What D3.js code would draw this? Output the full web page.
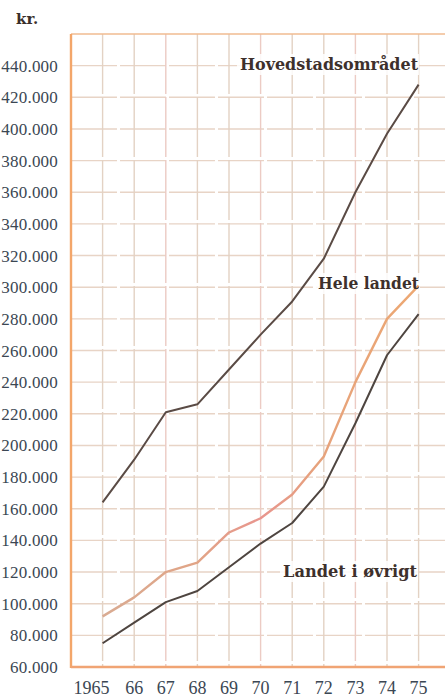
<!DOCTYPE html>
<html>
<head>
<meta charset="utf-8">
<script src="https://cdn.jsdelivr.net/npm/d3@7"></script>
<style>
  body { margin: 0; background: #fff; }
  svg { display: block; }
</style>
</head>
<body>
<div id="chart"></div>
<script>
// data (tusinde kr.)
const years = [1965, 1966, 1967, 1968, 1969, 1970, 1971, 1972, 1973, 1974, 1975];
const yearLabels = ["1965", "66", "67", "68", "69", "70", "71", "72", "73", "74", "75"];
const hovedstad = [164, 191, 221, 226, 248, 270, 291, 318, 360, 397, 428];
const heleLandet = [92, 104, 120, 126, 145, 154, 169, 193, 240, 280, 301];
const oevrigt = [75, 88, 101, 108, 123, 138, 151, 174, 214, 257, 283];
const yTicks = [60, 80, 100, 120, 140, 160, 180, 200, 220, 240, 260, 280, 300, 320, 340, 360, 380, 400, 420, 440];

const W = 445, H = 700;
const margin = { top: 34, left: 71, bottom: 33 };
const serif = "'Liberation Serif', 'Times New Roman', serif";
const boldSerif = "'DejaVu Serif', serif";

const svg = d3
  .select("#chart")
  .append("svg")
  .attr("width", W)
  .attr("height", H);

const x = d3.scaleLinear().domain([1964, 1975]).range([margin.left, 418.6]);
const y = d3.scaleLinear().domain([60, 460]).range([H - margin.bottom, margin.top]);

const fmt = (v) => d3.format(",")(v * 1000).replace(/,/g, ".");

// grid
const grid = svg.append("g");
grid
  .selectAll(".hgrid")
  .data(yTicks)
  .enter()
  .append("line")
  .attr("x1", margin.left)
  .attr("x2", W)
  .attr("y1", (d) => y(d))
  .attr("y2", (d) => y(d))
  .attr("stroke", "#e8d4c6")
  .attr("stroke-width", 1.4)
  .attr("stroke-dasharray", "46,3");

grid
  .selectAll(".vgrid")
  .data(years)
  .enter()
  .append("line")
  .attr("x1", (d) => x(d))
  .attr("x2", (d) => x(d))
  .attr("y1", margin.top)
  .attr("y2", y(60))
  .attr("stroke", (d, i) => (i % 3 === 2 ? "#eccbc4" : "#e3d2c4"))
  .attr("stroke-width", 1.4)
  .attr("stroke-dasharray", "60,3");

// frame: top, left axis, bottom axis
svg.append("line")
  .attr("x1", margin.left).attr("x2", W)
  .attr("y1", margin.top).attr("y2", margin.top)
  .attr("stroke", "#f1bb90").attr("stroke-width", 1.6);
svg.append("line")
  .attr("x1", margin.left).attr("x2", margin.left)
  .attr("y1", margin.top).attr("y2", y(60) + 1)
  .attr("stroke", "#f3a66a").attr("stroke-width", 2.4);
svg.append("line")
  .attr("x1", margin.left).attr("x2", W)
  .attr("y1", y(60)).attr("y2", y(60))
  .attr("stroke", "#f0a474").attr("stroke-width", 2.6);

// axis labels
svg.append("g")
  .selectAll("text")
  .data(yTicks)
  .enter()
  .append("text")
  .attr("x", 58)
  .attr("y", (d) => y(d) + 6)
  .attr("text-anchor", "end")
  .style("font-family", serif)
  .style("font-size", "17px")
  .style("letter-spacing", "0.2px")
  .attr("fill", "#3b4753")
  .text((d) => fmt(d));

svg.append("g")
  .selectAll("text")
  .data(years)
  .enter()
  .append("text")
  .attr("x", (d, i) => (i === 0 ? x(d) - 11 : x(d)))
  .attr("y", 694)
  .attr("text-anchor", "middle")
  .style("font-family", serif)
  .style("font-size", "18px")
  .attr("fill", "#3b4753")
  .text((d, i) => yearLabels[i]);

svg.append("text")
  .attr("x", 16)
  .attr("y", 24)
  .style("font-family", boldSerif)
  .style("font-weight", "bold")
  .style("font-size", "15px")
  .attr("fill", "#3a2f2b")
  .text("kr.");

// gradient for "Hele landet"
const grad = svg.append("defs")
  .append("linearGradient")
  .attr("id", "heleGrad")
  .attr("gradientUnits", "userSpaceOnUse")
  .attr("x1", x(1965)).attr("x2", x(1975))
  .attr("y1", 0).attr("y2", 0);
[[0, "#d9ab92"], [0.3, "#e1a486"], [0.5, "#e8958e"], [0.68, "#e6a27c"], [1, "#eda872"]]
  .forEach(([o, c]) => grad.append("stop").attr("offset", o).attr("stop-color", c));

const line = d3
  .line()
  .x((d, i) => x(years[i]))
  .y((d) => y(d));

const series = [
  { values: hovedstad, color: "#5a4b45", width: 2 },
  { values: heleLandet, color: "url(#heleGrad)", width: 2.4 },
  { values: oevrigt, color: "#4e4540", width: 2 },
];

// white patches behind the labels
const labels = [
  { text: "Hovedstadsområdet", x: 240, y: 70, w: 178 },
  { text: "Hele landet", x: 318, y: 289, w: 101 },
  { text: "Landet i øvrigt", x: 283, y: 577, w: 134 },
];

svg.append("g")
  .selectAll("rect")
  .data(labels)
  .enter()
  .append("rect")
  .attr("x", (d) => d.x - 3)
  .attr("y", (d) => d.y - 16)
  .attr("width", (d) => d.w + 4)
  .attr("height", 21)
  .attr("fill", "#fff")
  .attr("opacity", 0.85);

svg.append("g")
  .selectAll("path")
  .data(series)
  .enter()
  .append("path")
  .attr("d", (d) => line(d.values))
  .attr("fill", "none")
  .attr("stroke", (d) => d.color)
  .attr("stroke-width", (d) => d.width)
  .attr("stroke-linejoin", "round");

svg.append("g")
  .selectAll("text")
  .data(labels)
  .enter()
  .append("text")
  .attr("x", (d) => d.x)
  .attr("y", (d) => d.y)
  .attr("textLength", (d) => d.w)
  .attr("lengthAdjust", "spacingAndGlyphs")
  .style("font-family", boldSerif)
  .style("font-weight", "bold")
  .style("font-size", "17px")
  .attr("fill", "#3d302c")
  .text((d) => d.text);
</script>
</body>
</html>
